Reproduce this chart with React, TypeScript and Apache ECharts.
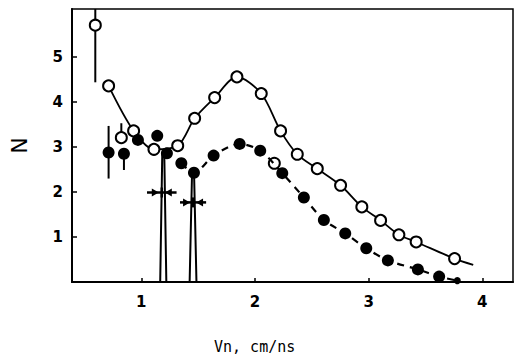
import React, { useEffect, useRef } from "react";
import * as echarts from "echarts";

// Open circles joined by the solid curve
const openX = [0.712, 0.932, 1.111, 1.32, 1.469, 1.645, 1.841, 2.055, 2.225, 2.372, 2.548, 2.753, 2.94, 3.105, 3.266, 3.418, 3.756, 3.92];
const openY = [4.36, 3.36, 2.95, 3.03, 3.64, 4.1, 4.56, 4.19, 3.36, 2.84, 2.52, 2.15, 1.67, 1.37, 1.05, 0.89, 0.52, 0.38];
// Isolated open circles
const openLooseX = [0.595, 0.824, 2.17];
const openLooseY = [5.71, 3.21, 2.64];
// Filled circles joined by the dashed curve
const fillX = [1.352, 1.463, 1.636, 1.865, 2.046, 2.24, 2.43, 2.606, 2.794, 2.979, 3.169, 3.433, 3.62, 3.78];
const fillY = [2.64, 2.43, 2.81, 3.07, 2.92, 2.42, 1.88, 1.38, 1.08, 0.75, 0.48, 0.28, 0.12, 0.03];
// Isolated filled circles
const fillLooseX = [0.712, 0.847, 0.97, 1.14, 1.225];
const fillLooseY = [2.88, 2.85, 3.16, 3.25, 2.86];
// Vertical error bars
const errX = [0.595, 0.712, 0.824, 0.847];
const errLow = [4.44, 2.3, 3.21, 2.49];
const errHigh = [6.1, 3.47, 3.53, 2.87];
// Narrow spikes
const spikeX = [1.193, 1.455];
const spikeTop = [2.86, 2.43];
const spikeHalf = [0.027, 0.03];
// Horizontal bars with inward arrows
const crossX = [1.18, 1.455];
const crossY = [1.99, 1.77];
const crossHalf = [0.13, 0.115];

const xTicks = [1, 2, 3, 4];
const yTicks = [1, 2, 3, 4, 5];

export default function App() {
  const ref = useRef<HTMLDivElement>(null);
  useEffect(() => {
    const chart = echarts.init(ref.current!, null, { renderer: "svg" });
    const black = "#000";
    const tickFont = { color: black, fontFamily: "DejaVu Sans", fontWeight: "bold", fontSize: 15 };
    chart.setOption({
      animation: false,
      backgroundColor: "#fff",
      grid: { left: 72, right: 4, top: 9, bottom: 79, show: true, borderColor: black, borderWidth: 1.5, backgroundColor: "transparent" },
      xAxis: {
        type: "value",
        min: 0.39,
        max: 4.27,
        axisLine: { lineStyle: { color: black, width: 2 } },
        axisTick: { show: true, inside: true, length: 4, customValues: xTicks, lineStyle: { color: black, width: 1.5 } },
        axisLabel: { ...tickFont, margin: 12, customValues: xTicks },
        splitLine: { show: false },
      },
      yAxis: {
        type: "value",
        min: 0,
        max: 6.07,
        name: "N",
        nameLocation: "middle",
        nameGap: 42,
        nameRotate: 90,
        nameTextStyle: { color: black, fontFamily: "DejaVu Sans", fontSize: 22 },
        axisLine: { show: true, lineStyle: { color: black, width: 2 } },
        axisTick: { show: true, inside: true, length: 5, customValues: yTicks, lineStyle: { color: black, width: 1.5 } },
        axisLabel: { ...tickFont, margin: 9, customValues: yTicks },
        splitLine: { show: false },
      },
      graphic: [
        {
          type: "text",
          left: 214,
          top: 339,
          style: { text: "Vn, cm/ns", fill: black, font: "15px 'DejaVu Sans Mono'" },
        },
      ],
      series: [
        {
          type: "custom",
          clip: true,
          data: errX.map((x, i) => [x, errLow[i], errHigh[i]]),
          renderItem: (params: any, api: any) => {
            const a = api.coord([api.value(0), api.value(1)]);
            const b = api.coord([api.value(0), api.value(2)]);
            return { type: "line", shape: { x1: a[0], y1: a[1], x2: b[0], y2: b[1] }, style: { stroke: black, lineWidth: 2 } };
          },
          z: 1,
        },
        {
          type: "custom",
          clip: true,
          data: spikeX.map((x, i) => [x, spikeTop[i], spikeHalf[i]]),
          renderItem: (params: any, api: any) => {
            const x = api.value(0), t = api.value(1), h = api.value(2);
            const l = api.coord([x - h, 0]);
            const top = api.coord([x, t]);
            const r = api.coord([x + h, 0]);
            return {
              type: "polyline",
              shape: { points: [l, [top[0] - 1, top[1]], [top[0] + 1, top[1]], r] },
              style: { stroke: black, lineWidth: 2, fill: "none" },
            };
          },
          z: 1,
        },
        {
          type: "custom",
          clip: true,
          data: crossX.map((x, i) => [x, crossY[i], crossHalf[i]]),
          renderItem: (params: any, api: any) => {
            const x = api.value(0), y = api.value(1), h = api.value(2);
            const l = api.coord([x - h, y]);
            const c = api.coord([x, y]);
            const r = api.coord([x + h, y]);
            const s = 4;
            return {
              type: "group",
              children: [
                { type: "line", shape: { x1: l[0], y1: l[1], x2: r[0], y2: r[1] }, style: { stroke: black, lineWidth: 2.5 } },
                { type: "line", shape: { x1: c[0], y1: c[1] - 5, x2: c[0], y2: c[1] + 5 }, style: { stroke: black, lineWidth: 2.5 } },
                { type: "polygon", shape: { points: [[c[0] - 10, c[1] - s], [c[0] - 3, c[1]], [c[0] - 10, c[1] + s]] }, style: { fill: black } },
                { type: "polygon", shape: { points: [[c[0] + 10, c[1] - s], [c[0] + 3, c[1]], [c[0] + 10, c[1] + s]] }, style: { fill: black } },
              ],
            };
          },
          z: 1,
        },
        {
          type: "line",
          smooth: 0.3,
          data: openX.map((x, i) => (i === openX.length - 1 ? { value: [x, openY[i]], symbol: "none" } : [x, openY[i]])),
          symbol: "circle",
          symbolSize: 11,
          showAllSymbol: true,
          lineStyle: { color: black, width: 1.8 },
          itemStyle: { color: "#fff", borderColor: black, borderWidth: 2 },
          z: 3,
        },
        {
          type: "scatter",
          data: openLooseX.map((x, i) => [x, openLooseY[i]]),
          symbol: "circle",
          symbolSize: 11,
          itemStyle: { color: "#fff", borderColor: black, borderWidth: 2, opacity: 1 },
          z: 3,
        },
        {
          type: "line",
          smooth: 0.3,
          data: fillX.map((x, i) => (i === fillX.length - 1 ? { value: [x, fillY[i]], symbolSize: 7 } : [x, fillY[i]])),
          symbol: "circle",
          symbolSize: 12,
          showAllSymbol: true,
          lineStyle: { color: black, width: 2.2, type: [7, 6] },
          itemStyle: { color: black, borderColor: black, borderWidth: 0 },
          z: 4,
        },
        {
          type: "scatter",
          data: fillLooseX.map((x, i) => [x, fillLooseY[i]]),
          symbol: "circle",
          symbolSize: 12,
          itemStyle: { color: black, opacity: 1 },
          z: 4,
        },
      ],
    });
    return () => chart.dispose();
  }, []);
  return <div ref={ref} style={{ position: "fixed", left: 0, top: 0, width: 517, height: 361 }} />;
}
